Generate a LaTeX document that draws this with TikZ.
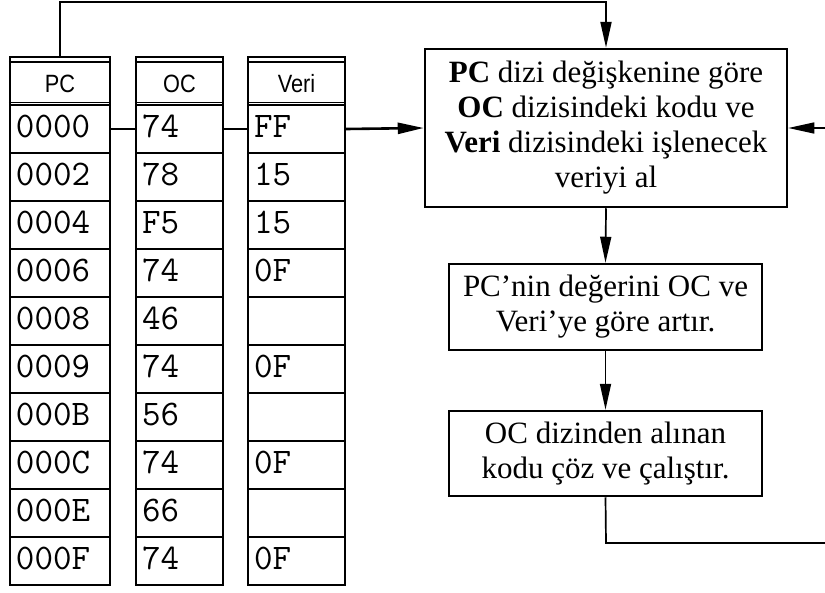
\documentclass[tikz,border=0pt]{standalone}
\usepackage{fontspec}
\setmainfont{Liberation Serif}
\newfontfamily\hdrfont[FakeStretch=0.87]{Liberation Sans}
\usetikzlibrary{arrows.meta}

\tikzset{
  cellbox/.style={draw, line width=2.2pt, rectangle, minimum height=48pt,
    inner xsep=6pt, inner ysep=0pt, text height=17pt, text depth=0pt,
    align=left, font=\ttfamily\fontsize{36}{36}\selectfont},
  hdrbox/.style={draw, line width=2.2pt, rectangle, minimum height=48pt,
    inner sep=0pt, text height=22pt, text depth=0pt,
    font=\hdrfont\fontsize{25}{25}\selectfont},
  procbox/.style={draw, line width=2.5pt, rectangle, inner sep=0pt, align=center,
    font=\fontsize{31}{35}\selectfont},
  link/.style={line width=2.2pt},
  flow/.style={line width=1.7pt},
  arrowtip/.style={-{Triangle[length=26pt,width=11pt]}}
}

\begin{document}
\begin{tikzpicture}[x=1pt,y=-1pt]
\useasboundingbox (0,0) rectangle (825,592);

% column headers
\node[hdrbox, minimum width=100pt] (pch) at (60,81) {PC};
\node[hdrbox, minimum width=87pt] (och) at (179.5,81) {OC};
\node[hdrbox, minimum width=97pt] (vh) at (296.5,81) {Veri};
\foreach \h in {pch,och,vh}{
  \draw[line width=1.2pt] ([yshift=-6pt]\h.north west) -- ([yshift=-6pt]\h.north east);
  \draw[line width=1.2pt] ([yshift=4pt]\h.south west) -- ([yshift=4pt]\h.south east);
}

% table rows: program counter, opcode, operand
\foreach \p/\o/\v [count=\i] in {0000/74/FF, 0002/78/15, 0004/F5/15, 0006/74/0F,
    0008/46/{}, 0009/74/0F, 000B/56/{}, 000C/74/0F, 000E/66/{}, 000F/74/0F}{
  \node[cellbox, text width=88pt] (pc\i) at (60,{105+48*(\i-0.5)}) {\p};
  \node[cellbox, text width=75pt] (oc\i) at (179.5,{105+48*(\i-0.5)}) {\o};
  \node[cellbox, text width=85pt] (v\i) at (296.5,{105+48*(\i-0.5)}) {\v};
}

% process boxes
\node[procbox, minimum width=362pt, minimum height=158pt] (b1) at (606,128)
  {\textbf{PC} dizi değişkenine göre\\ \textbf{OC} dizisindeki kodu ve\\
   \textbf{Veri} dizisindeki işlenecek\\ veriyi al};
\node[procbox, minimum width=313pt, minimum height=86pt] (b2) at (605.5,307)
  {PC’nin değerini OC ve\\ Veri’ye göre artır.};
\node[procbox, minimum width=313pt, minimum height=85pt] (b3) at (605.5,453.5)
  {OC dizinden alınan\\ kodu çöz ve çalıştır.};

% connectors
\coordinate (topc) at (60,2);
\coordinate (rin) at (825,128);
\coordinate (bend) at (606,543);
\coordinate (rout) at (825,543);

\draw[link] (pc1.east) -- (oc1.west);
\draw[link] (oc1.east) -- (v1.west);
\draw[line width=2.6pt, arrowtip] (v1.east) -- (b1.west);
\draw[line width=2pt, arrowtip] (pch.north) -- (topc) -| (b1.north);
\draw[line width=1.4pt, arrowtip] (rin) -- (b1.east);
\draw[flow, arrowtip] (b1.south) -- (b2.north);
\draw[flow, arrowtip] (b2.south) -- (b3.north);
\draw[flow] (b3.south) -- (bend) -- (rout);
\end{tikzpicture}
\end{document}
